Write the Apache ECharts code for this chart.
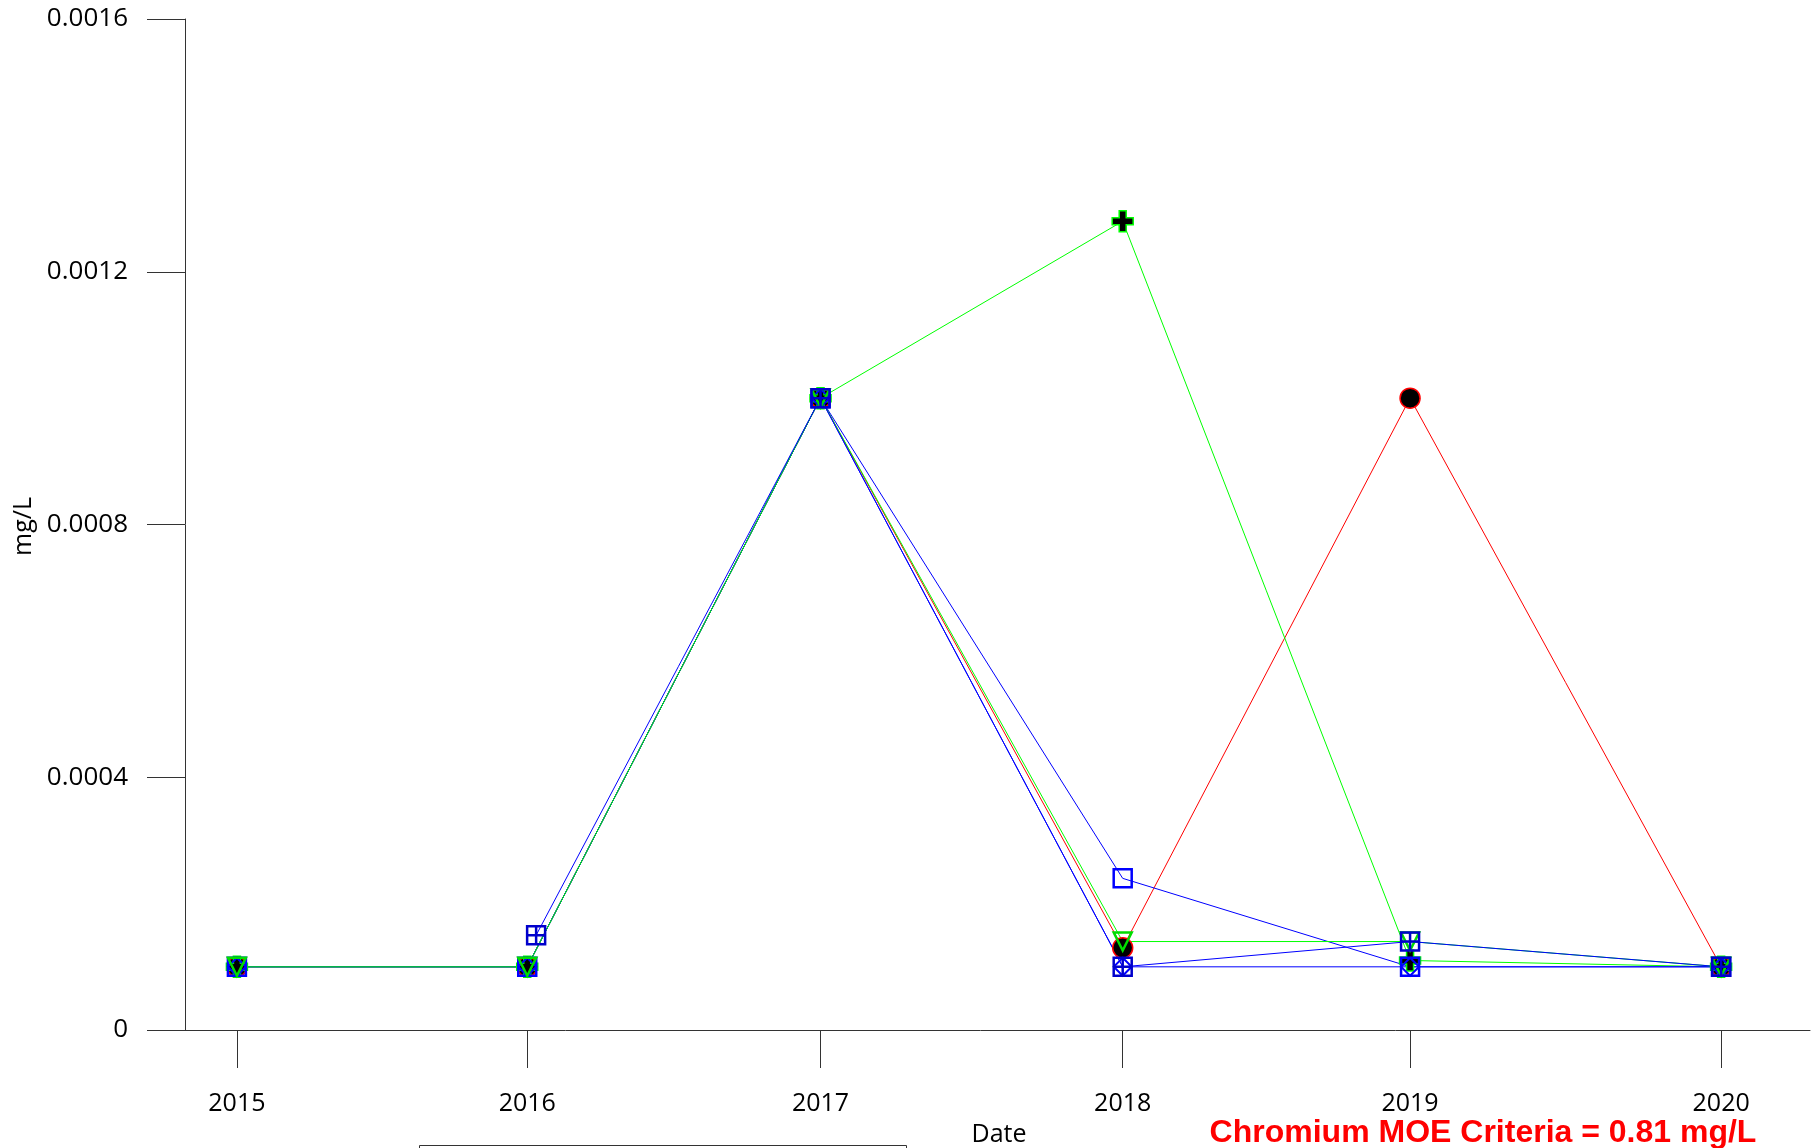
<!DOCTYPE html>
<html>
<head>
<meta charset="utf-8">
<script src="https://cdn.jsdelivr.net/npm/echarts@6/dist/echarts.min.js"></script>
<style>
html,body{margin:0;padding:0;background:#fff;}
#chart{width:1817px;height:1148px;}
</style>
</head>
<body>
<div id="chart"></div>
<script>
// sampling dates (decimal years) and tick labels
const sampleDates = [2015.29, 2016.27, 2017.26, 2018.28, 2019.25, 2020.30];
const datesGridSq = [2015.29, 2016.30, 2017.26, 2018.28, 2019.25, 2020.30];
const tickLabels = ['2015', '2016', '2017', '2018', '2019', '2020'];
const yTickValues = [0, 0.0004, 0.0008, 0.0012, 0.0016];

// series values (mg/L); null = no sample
const redCircle   = [0.0001, 0.0001, 0.001, 0.00013, 0.001, 0.0001];
const greenPlus   = [0.0001, 0.0001, 0.001, 0.00128, 0.00011, 0.0001];
const greenTri    = [0.0001, 0.0001, 0.001, 0.00014, 0.00014, 0.0001];
const blueSquare  = [0.0001, 0.0001, 0.001, 0.00024, 0.0001, 0.0001];
const blueDiamond = [0.0001, 0.0001, 0.001, 0.0001, 0.0001, 0.0001];
const blueGridSq  = [null, 0.00015, 0.001, 0.0001, 0.00014, 0.0001];

const pair = (xs, ys) => ys.map((v, i) => [xs[i], v === null ? '-' : v]);
const FONT = 'Open Sans';
const AX = '#333';

const plusPath = 'path://M7,0H14V7H21V14H14V21H7V14H0V7H7Z';
const gridPath = 'path://M0,0H10V10H0Z M5,0V10 M0,5H10';

function lineSeries(name, data, color, symbol, size, item, extra) {
  return Object.assign({
    name: name, type: 'line', data: data,
    symbol: symbol, symbolSize: size, showAllSymbol: true, connectNulls: false,
    lineStyle: { color: color, width: 1 },
    itemStyle: item,
    emphasis: { disabled: true },
    animation: false
  }, extra || {});
}

const chart = echarts.init(document.getElementById('chart'), null, { renderer: 'canvas' });
chart.setOption({
  backgroundColor: '#fff',
  animation: false,
  grid: { left: 151, right: 7, top: 19, bottom: 118, containLabel: false, outerBoundsMode: 'none' },
  xAxis: {
    type: 'value', min: 2015.0, max: 2020.6,
    axisLine: { show: true, onZero: false, lineStyle: { color: AX, width: 1 } },
    axisTick: { show: true, length: 38, inside: false, customValues: sampleDates, lineStyle: { color: AX } },
    axisLabel: {
      show: true, customValues: sampleDates, margin: 61,
      color: '#000', fontFamily: FONT, fontSize: 25,
      formatter: v => tickLabels[sampleDates.indexOf(v)]
    },
    splitLine: { show: false }
  },
  yAxis: {
    type: 'value', min: 0, max: 0.0016, interval: 0.0004, offset: -34,
    axisLine: { show: true, onZero: false, lineStyle: { color: AX, width: 1 } },
    axisTick: { show: true, length: 38, inside: false, lineStyle: { color: AX } },
    axisLabel: {
      show: true, margin: 57, color: '#000', fontFamily: FONT, fontSize: 26,
      formatter: v => { const i = yTickValues.findIndex(t => Math.abs(t - v) < 1e-9); return i === 0 ? '0' : yTickValues[i].toFixed(4); }
    },
    splitLine: { show: false }
  },
  series: [
    lineSeries('Red', pair(sampleDates, redCircle), '#ff0000', 'circle', 20,
      { color: '#000', borderColor: '#ff0000', borderWidth: 1.5 }),
    lineSeries('Green plus', pair(sampleDates, greenPlus), '#00ff00', plusPath, 21,
      { color: '#000', borderColor: '#00ff00', borderWidth: 1.5 }),
    lineSeries('Blue square', pair(sampleDates, blueSquare), '#0000ff', 'rect', 18,
      { color: 'rgba(0,0,0,0)', borderColor: '#0000ff', borderWidth: 2.5 }),
    lineSeries('Blue diamond', pair(sampleDates, blueDiamond), '#0000ff', 'diamond', 18,
      { color: 'rgba(0,0,0,0)', borderColor: '#0000ff', borderWidth: 2 }),
    lineSeries('Green triangle', pair(sampleDates, greenTri), '#00ff00', 'triangle', 18,
      { color: 'rgba(0,0,0,0)', borderColor: '#00dd00', borderWidth: 2.5 }, { symbolRotate: 180 }),
    lineSeries('Blue grid', pair(datesGridSq, blueGridSq), '#0000ff', gridPath, 18,
      { color: 'rgba(0,0,0,0)', borderColor: '#0000cc', borderWidth: 2.5 })
  ],
  graphic: [
    { type: 'text', left: 11, top: 497, rotation: Math.PI / 2,
      style: { text: 'mg/L', fill: '#000', font: '25px "Open Sans"' } },
    { type: 'text', x: 999, y: 1135,
      style: { text: 'Date', fill: '#000', font: '25px "Open Sans"', align: 'center', verticalAlign: 'middle' } },
    { type: 'text', x: 1483, y: 1133,
      style: { text: 'Chromium MOE Criteria = 0.81 mg/L', fill: '#ff0000', font: 'bold 32px "Liberation Sans"', align: 'center', verticalAlign: 'middle' } },
    { type: 'rect', shape: { x: 419.5, y: 1145.5, width: 487, height: 40 },
      style: { fill: 'none', stroke: '#333', lineWidth: 1 } }
  ]
});
</script>
</body>
</html>
